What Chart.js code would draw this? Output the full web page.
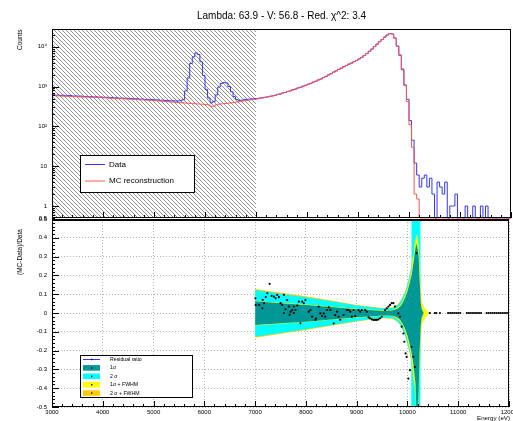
<!DOCTYPE html>
<html>
<head>
<meta charset="utf-8">
<script src="https://cdn.jsdelivr.net/npm/chart.js@4.4.1/dist/chart.umd.min.js"></script>
<style>
    html, body { margin: 0; padding: 0; background: #fff; }
    #wrap { position: relative; width: 513px; height: 421px; overflow: hidden; font-family: "Liberation Sans", Arial, sans-serif; color: #000; }
    canvas { position: absolute; left: 0; }
    #topCanvas { top: 0; }
    #botCanvas { top: 212px; }
    .vtitle { position: absolute; transform: rotate(-90deg); transform-origin: left top; white-space: nowrap; font-size: 6.5px; line-height: 1; }
    .xtitle { position: absolute; white-space: nowrap; font-size: 6.2px; line-height: 1; }
</style>
</head>
<body>
<div id="wrap">
    <canvas id="topCanvas" width="513" height="226"></canvas>
    <canvas id="botCanvas" width="513" height="209"></canvas>
    <div class="vtitle" style="left:16.75px; top:50px;">Counts</div>
    <div class="vtitle" style="left:16.75px; top:275px;">(MC-Data)/Data</div>
    <div class="xtitle" style="left:477px; top:415px;">Energy (eV)</div>
</div>
<script>
const titleText = "Lambda: 63.9 - V: 56.8 - Red. χ^2: 3.4";

const X_MIN = 3000, X_MAX = 12000;
const xTicks = [3000, 4000, 5000, 6000, 7000, 8000, 9000, 10000, 11000, 12000];

// top panel (log counts)
const Y_TOP_MIN = 0.5, Y_TOP_MAX = 28000;
const topTicks = [0.5, 1, 10, 100, 1000, 10000];
const topTickLabels = ["0.5", "1", "10", "10²", "10³", "10⁴"];
const excludedRange = [3000, 7000];

// bottom panel (ratio)
const residTicks = [-0.5, -0.4, -0.3, -0.2, -0.1, 0, 0.1, 0.2, 0.3, 0.4, 0.5];
const residTickLabels = ["-0.5", "-0.4", "-0.3", "-0.2", "-0.1", "0", "0.1", "0.2", "0.3", "0.4", "0.5"];

// histogram bins (low edges, eV)
const binLow = [
    3000, 3050, 3100, 3150, 3200, 3250, 3300, 3350, 3400, 3450,
    3500, 3550, 3600, 3650, 3700, 3750, 3800, 3850, 3900, 3950,
    4000, 4050, 4100, 4150, 4200, 4250, 4300, 4350, 4400, 4450,
    4500, 4550, 4600, 4650, 4700, 4750, 4800, 4850, 4900, 4950,
    5000, 5050, 5100, 5150, 5200, 5250, 5300, 5350, 5400, 5450,
    5500, 5550, 5600, 5650, 5700, 5750, 5800, 5850, 5900, 5950,
    6000, 6050, 6100, 6150, 6200, 6250, 6300, 6350, 6400, 6450,
    6500, 6550, 6600, 6650, 6700, 6750, 6800, 6850, 6900, 6950,
    7000, 7050, 7100, 7150, 7200, 7250, 7300, 7350, 7400, 7450,
    7500, 7550, 7600, 7650, 7700, 7750, 7800, 7850, 7900, 7950,
    8000, 8050, 8100, 8150, 8200, 8250, 8300, 8350, 8400, 8450,
    8500, 8550, 8600, 8650, 8700, 8750, 8800, 8850, 8900, 8950,
    9000, 9050, 9100, 9150, 9200, 9250, 9300, 9350, 9400, 9450,
    9500, 9550, 9600, 9650, 9700, 9750, 9800, 9850, 9900, 9950,
    10000, 10050, 10100, 10150, 10200, 10250, 10300, 10350, 10400, 10450,
    10500, 10550, 10600, 10650, 10700, 10750, 10800, 10850, 10900, 10950,
    11000, 11050, 11100, 11150, 11200, 11250, 11300, 11350, 11400, 11450,
    11500, 11550, 11600, 11650, 11700, 11750, 11800, 11850, 11900, 11950
];

const dataCounts = [
    620, 640, 605, 615, 598, 610, 585, 600, 590, 575,
    585, 570, 580, 560, 568, 555, 562, 548, 555, 540,
    548, 535, 540, 525, 532, 518, 525, 510, 516, 505,
    510, 498, 502, 490, 496, 482, 488, 475, 480, 468,
    472, 460, 465, 452, 458, 445, 450, 438, 442, 432,
    436, 440, 470, 780, 1650, 3800, 5600, 7000, 6400, 4200,
    1900, 850, 520, 390, 420, 620, 980, 1200, 1260, 1230,
    1000, 740, 560, 470, 450, 455, 470, 478, 485, 492,
    500, 498, 515, 522, 540, 552, 572, 585, 600, 640,
    650, 695, 710, 758, 780, 835, 862, 925, 955, 1030,
    1075, 1150, 1200, 1300, 1360, 1475, 1550, 1690, 1800, 1975,
    2110, 2320, 2490, 2720, 2900, 3180, 3380, 3680, 3900, 4250,
    4530, 4980, 5420, 6080, 6760, 7740, 8760, 10150, 11650, 13450,
    15250, 17550, 19750, 21550, 20900, 16600, 10300, 6100, 2650, 1100,
    480, 140, 45, 12, 6, 3, 5, 6, 3, 5,
    2, 0, 4, 3, 2, 4, 0, 1, 1, 2,
    0, 0, 0, 1, 0, 0, 1, 0, 0, 1,
    0, 1, 0, 0, 0, 0, 0, 0, 0, 0
];

const mcCounts = [
    600, 595, 590, 585, 580, 575, 572, 568, 565, 562,
    558, 555, 552, 549, 546, 543, 540, 537, 534, 531,
    528, 524, 520, 516, 512, 508, 504, 500, 496, 492,
    488, 484, 480, 476, 472, 468, 464, 460, 456, 452,
    448, 443, 438, 433, 428, 423, 418, 413, 408, 403,
    398, 394, 390, 386, 382, 378, 374, 370, 366, 362,
    358, 354, 345, 318, 322, 350, 362, 368, 372, 378,
    384, 392, 400, 410, 420, 430, 440, 450, 460, 470,
    480, 492, 505, 518, 532, 546, 560, 580, 605, 630,
    655, 685, 715, 750, 785, 825, 870, 915, 965, 1020,
    1080, 1140, 1210, 1290, 1370, 1460, 1560, 1680, 1810, 1960,
    2120, 2300, 2500, 2700, 2920, 3150, 3400, 3650, 3920, 4220,
    4550, 4950, 5450, 6050, 6800, 7700, 8800, 10100, 11700, 13400,
    15300, 17500, 19800, 21500, 21000, 16500, 10500, 6300, 2800, 1050,
    420, 110, 30, 2, 1.5, 0, 0, 0, 0, 0,
    0, 0, 0, 0, 0, 0, 0, 0, 0, 0,
    0, 0, 0, 0, 0, 0, 0, 0, 0, 0,
    0, 0, 0, 0, 0, 0, 0, 0, 0, 0
];

// residual ratio points
const residE = [
    7005, 7011, 7077, 7142, 7150, 7175, 7210, 7240, 7286, 7325,
    7371, 7404, 7436, 7469, 7501, 7534, 7567, 7567, 7600, 7632,
    7665, 7680, 7698, 7730, 7763, 7763, 7796, 7830, 7861, 7893,
    7926, 7959, 7991, 8057, 8089, 8122, 8187, 8200, 8253, 8285,
    8318, 8351, 8380, 8416, 8450, 8481, 8547, 8579, 8612, 8645,
    8677, 8743, 8808, 8841, 8873, 8906, 8939, 8971, 9037, 9069,
    9102, 9167, 9200, 9233, 9265, 9298, 9331, 9363, 9396, 9429,
    9461, 9494, 9559, 9592, 9625, 9657, 9690, 9723, 9755, 9821,
    9853, 9886, 9919, 9938, 9964, 9984, 10017, 10049, 10082, 10115,
    10147, 10180,
    10440, 10540, 10570, 10640, 10800, 10840, 10880, 10920, 10960, 11000,
    11040, 11170, 11210, 11250, 11290, 11330, 11370, 11410, 11450, 11560,
    11600, 11640, 11680, 11720, 11760, 11800, 11840, 11880, 11920, 11960
];
const residVal = [
    0.078, 0.043, 0.043, 0.025, 0.070, 0.052, 0.085, 0.105, 0.155, 0.091,
    0.087, 0.078, 0.096, 0.084, 0.052, 0.043, 0.096, 0.000, 0.020, 0.069,
    0.034, -0.010, 0.007, 0.016, 0.034, 0.000, 0.016, 0.040, 0.060, -0.055,
    0.060, 0.052, 0.069, 0.007, 0.016, -0.020, -0.037, -0.030, 0.034, -0.002,
    -0.016, -0.002, -0.020, 0.016, 0.030, 0.016, -0.055, -0.011, 0.007, -0.020,
    -0.037, -0.011, 0.016, 0.016, 0.007, -0.020, 0.016, -0.016, 0.016, 0.007,
    0.016, 0.016, 0.007, -0.023, -0.028, -0.034, -0.037, -0.037, -0.037, -0.034,
    -0.028, -0.020, 0.016, 0.025, 0.034, 0.043, 0.052, 0.052, 0.034, -0.002,
    -0.020, -0.073, -0.109, -0.153, -0.215, -0.233, -0.349, -0.304, -0.180, -0.233,
    -0.287, 0.318,
    0, 0, 0, 0, 0, 0, 0, 0, 0, 0,
    0, 0, 0, 0, 0, 0, 0, 0, 0, 0,
    0, 0, 0, 0, 0, 0, 0, 0, 0, 0
];

// uncertainty bands
const bandE = [
    7000, 7500, 8000, 8500, 9000, 9300, 9500, 9700, 9800, 9850,
    9900, 9950, 10000, 10050, 10075, 10080, 10100, 10120, 10140, 10160,
    10180, 10200, 10220, 10240, 10255, 10260, 10280, 10300, 10320, 10340,
    10360, 10380, 10400, 10420
];
const sigma1Hi = [
    0.062, 0.052, 0.043, 0.032, 0.020, 0.015, 0.012, 0.013, 0.022, 0.032,
    0.050, 0.078, 0.115, 0.165, 0.195, 0.200, 0.230, 0.270, 0.310, 0.350,
    0.370, 0.340, 0.300, 0.170, 0.100, 0.060, 0.020, 0.010, 0, 0,
    0, 0, 0, 0
];
const sigma1Lo = [
    -0.064, -0.055, -0.046, -0.034, -0.023, -0.017, -0.013, -0.014, -0.024, -0.035,
    -0.054, -0.082, -0.120, -0.170, -0.205, -0.210, -0.240, -0.280, -0.330, -0.380,
    -0.600, -0.600, -0.420, -0.200, -0.120, -0.070, -0.025, -0.010, 0, 0,
    0, 0, 0, 0
];
const sigma2Hi = [
    0.122, 0.103, 0.084, 0.062, 0.040, 0.030, 0.024, 0.026, 0.040, 0.055,
    0.078, 0.105, 0.150, 0.205, 0.240, 0.600, 0.600, 0.600, 0.600, 0.600,
    0.600, 0.600, 0.600, 0.600, 0.600, 0, 0, 0, 0, 0,
    0, 0, 0, 0
];
const sigma2Lo = [
    -0.126, -0.106, -0.087, -0.064, -0.042, -0.032, -0.025, -0.027, -0.043, -0.058,
    -0.082, -0.115, -0.160, -0.215, -0.250, -0.600, -0.600, -0.600, -0.600, -0.600,
    -0.600, -0.600, -0.600, -0.600, -0.600, 0, 0, 0, 0, 0,
    0, 0, 0, 0
];
const sigma1FwhmHi = [
    0.064, 0.054, 0.045, 0.034, 0.022, 0.017, 0.014, 0.016, 0.028, 0.040,
    0.060, 0.090, 0.130, 0.185, 0.220, 0.225, 0.290, 0.300, 0.370, 0.390,
    0.420, 0.400, 0.360, 0.250, 0.160, 0.120, 0.050, 0.040, 0.030, 0.022,
    0.015, 0.010, 0.005, 0
];
const sigma1FwhmLo = [
    -0.066, -0.057, -0.048, -0.036, -0.025, -0.019, -0.015, -0.017, -0.030, -0.043,
    -0.064, -0.095, -0.140, -0.195, -0.235, -0.240, -0.300, -0.360, -0.380, -0.450,
    -0.600, -0.600, -0.480, -0.280, -0.180, -0.130, -0.060, -0.045, -0.035, -0.025,
    -0.018, -0.012, -0.006, 0
];
const sigma2FwhmHi = [
    0.128, 0.108, 0.089, 0.066, 0.043, 0.033, 0.027, 0.029, 0.045, 0.060,
    0.083, 0.110, 0.155, 0.210, 0.245, 0.250, 0.300, 0.310, 0.380, 0.400,
    0.430, 0.410, 0.370, 0.260, 0.170, 0.125, 0.055, 0.045, 0.034, 0.025,
    0.018, 0.012, 0.006, 0
];
const sigma2FwhmLo = [
    -0.132, -0.111, -0.091, -0.068, -0.045, -0.035, -0.028, -0.030, -0.047, -0.063,
    -0.087, -0.120, -0.165, -0.220, -0.255, -0.260, -0.310, -0.370, -0.390, -0.460,
    -0.600, -0.600, -0.490, -0.290, -0.190, -0.135, -0.065, -0.050, -0.038, -0.028,
    -0.020, -0.014, -0.007, 0
];

const COLORS = {
    data: "#3535ff",
    mc: "#ff5555",
    s1: "#009797",
    s2: "#00ffff",
    s1f: "#ffff00",
    s2f: "#ffcc00"
};
const FONT = "'Liberation Sans', Arial, sans-serif";

// legend entries
const topLegendItems = [["Data", COLORS.data], ["MC reconstruction", COLORS.mc]];
const botLegendItems = [
    ["Residual ratio", null],
    ["1σ", COLORS.s1],
    ["2 σ", COLORS.s2],
    ["1σ + FWHM", COLORS.s1f],
    ["2 σ + FWHM", COLORS.s2f]
];

// zero bins are drawn on the frame bottom, like ROOT does
function histPoints(vals) {
    const pts = binLow.map((e, i) => ({ x: e, y: vals[i] > 0 ? vals[i] : Y_TOP_MIN }));
    pts.push({ x: X_MAX, y: pts[pts.length - 1].y });
    return pts;
}

function bandPoints(vals) {
    return bandE.map((e, i) => ({ x: e, y: vals[i] }));
}

function makeHatch() {
    const c = document.createElement("canvas");
    c.width = 4; c.height = 4;
    const g = c.getContext("2d");
    g.strokeStyle = "rgba(70,70,70,0.75)";
    g.lineWidth = 0.8;
    g.beginPath();
    g.moveTo(0, 0); g.lineTo(4, 4);
    g.moveTo(-1, 3); g.lineTo(1, 5);
    g.moveTo(3, -1); g.lineTo(5, 1);
    g.stroke();
    return g.createPattern(c, "repeat");
}

function legendBox(ctx, x, y, w, h) {
    ctx.fillStyle = "#fff";
    ctx.fillRect(x, y, w, h);
    ctx.strokeStyle = "#000";
    ctx.lineWidth = 1;
    ctx.strokeRect(x + 0.5, y + 0.5, w - 1, h - 1);
}

// ROOT style: frame plus ticks pointing inwards
const topFrame = {
    id: "topFrame",
    afterDatasetsDraw(chart) {
        const { ctx, chartArea: a, scales: { x, y } } = chart;
        ctx.save();
        ctx.strokeStyle = "#000";
        ctx.lineWidth = 1;
        ctx.beginPath();
        for (let e = X_MIN; e <= X_MAX; e += 200) {
            const px = Math.round(x.getPixelForValue(e)) + 0.5;
            const len = e % 1000 === 0 ? 6 : 3;
            ctx.moveTo(px, a.bottom);
            ctx.lineTo(px, a.bottom - len);
        }
        [0.1, 1, 10, 100, 1000, 10000].forEach(d => {
            for (let k = 1; k < 10; k++) {
                const v = k * d;
                if (v < Y_TOP_MIN || v > Y_TOP_MAX) continue;
                const py = Math.round(y.getPixelForValue(v)) + 0.5;
                const len = k === 1 ? 7 : 3;
                ctx.moveTo(a.left, py);
                ctx.lineTo(a.left + len, py);
            }
        });
        ctx.stroke();
        ctx.strokeRect(a.left + 0.5, a.top + 0.5, a.width - 1, a.height - 1);

        // legend
        legendBox(ctx, 80, 155, 115, 38);
        ctx.font = "8px " + FONT;
        ctx.textBaseline = "middle";
        ctx.textAlign = "left";
        topLegendItems.forEach(([label, color], i) => {
            const cy = 164 + i * 16.5;
            ctx.strokeStyle = color;
            ctx.beginPath();
            ctx.moveTo(85, cy + 0.5);
            ctx.lineTo(105, cy + 0.5);
            ctx.stroke();
            ctx.fillStyle = "#000";
            ctx.fillText(label, 109, cy + 0.5);
        });
        ctx.restore();
    }
};

const botFrame = {
    id: "botFrame",
    afterDatasetsDraw(chart) {
        const { ctx, chartArea: a, scales: { x, y } } = chart;
        ctx.save();
        ctx.strokeStyle = "#000";
        ctx.lineWidth = 1;
        ctx.beginPath();
        for (let e = X_MIN; e <= X_MAX; e += 200) {
            const px = Math.round(x.getPixelForValue(e)) + 0.5;
            const len = e % 1000 === 0 ? 6 : 3;
            ctx.moveTo(px, a.bottom);
            ctx.lineTo(px, a.bottom - len);
        }
        for (let i = -25; i <= 25; i++) {
            const py = Math.round(y.getPixelForValue(i / 50)) + 0.5;
            const len = i % 5 === 0 ? 7 : 3;
            ctx.moveTo(a.left, py);
            ctx.lineTo(a.left + len, py);
        }
        ctx.stroke();
        ctx.strokeRect(a.left + 0.5, a.top + 0.5, a.width - 1, a.height - 1);
        // thick boundary between the two pads
        ctx.lineWidth = 2;
        ctx.beginPath();
        ctx.moveTo(a.left, a.top + 1);
        ctx.lineTo(a.right, a.top + 1);
        ctx.stroke();

        // legend (canvas y = page y - 212)
        legendBox(ctx, 80, 143, 113, 43);
        ctx.font = "5.2px " + FONT;
        ctx.textBaseline = "middle";
        ctx.textAlign = "left";
        botLegendItems.forEach(([label, color], i) => {
            const cy = 147.5 + i * 8.4;
            if (color) {
                ctx.fillStyle = color;
                ctx.fillRect(83, cy - 2.8, 17, 5.6);
            } else {
                ctx.strokeStyle = COLORS.data;
                ctx.lineWidth = 1;
                ctx.beginPath();
                ctx.moveTo(83, cy);
                ctx.lineTo(100, cy);
                ctx.stroke();
            }
            ctx.fillStyle = "#000";
            ctx.fillRect(91, cy - 0.7, 1.4, 1.4);
            ctx.fillText(label, 110, cy);
        });
        ctx.restore();
    }
};

function noPad(s) {
    s.paddingLeft = 0; s.paddingRight = 0; s.paddingTop = 0; s.paddingBottom = 0;
}

const topChart = new Chart(document.getElementById("topCanvas").getContext("2d"), {
    type: "line",
    data: {
        datasets: [
            {
                label: "MC reconstruction",
                data: histPoints(mcCounts),
                stepped: "after",
                borderColor: COLORS.mc,
                borderWidth: 1,
                pointRadius: 0,
                fill: false,
                clip: 2
            },
            {
                label: "Data",
                data: histPoints(dataCounts),
                stepped: "after",
                borderColor: COLORS.data,
                borderWidth: 1,
                pointRadius: 0,
                fill: false,
                clip: 2
            },
            {
                label: "excluded",
                data: [{ x: excludedRange[0], y: Y_TOP_MAX }, { x: excludedRange[1], y: Y_TOP_MAX }],
                borderColor: "transparent",
                borderWidth: 0,
                backgroundColor: makeHatch(),
                pointRadius: 0,
                fill: "start"
            }
        ]
    },
    options: {
        responsive: false,
        animation: false,
        devicePixelRatio: 1,
        layout: { padding: { left: 0, right: 2, top: 0, bottom: 0 } },
        plugins: {
            legend: { display: false },
            tooltip: { enabled: false },
            title: {
                display: true,
                text: titleText,
                fullSize: false,
                color: "#000",
                font: { family: FONT, size: 10, weight: "normal" },
                padding: { top: 10, bottom: 7 }
            }
        },
        scales: {
            x: {
                type: "linear",
                min: X_MIN,
                max: X_MAX,
                ticks: { display: false },
                grid: { display: false, drawTicks: false },
                border: { display: false },
                afterFit: s => { s.height = 8; noPad(s); }
            },
            y: {
                type: "logarithmic",
                min: Y_TOP_MIN,
                max: Y_TOP_MAX,
                afterBuildTicks: s => { s.ticks = topTicks.map(v => ({ value: v })); },
                ticks: {
                    autoSkip: false,
                    color: "#000",
                    padding: 5,
                    font: { family: FONT, size: 6 },
                    callback: v => topTickLabels[topTicks.indexOf(v)]
                },
                grid: { display: false, drawTicks: false },
                border: { display: false },
                afterFit: s => { s.width = 52; noPad(s); }
            }
        }
    },
    plugins: [topFrame]
});

const botChart = new Chart(document.getElementById("botCanvas").getContext("2d"), {
    type: "line",
    data: {
        datasets: [
            {
                label: "Residual ratio",
                data: residE.map((e, i) => ({ x: e, y: residVal[i] })),
                showLine: false,
                pointRadius: 1.1,
                pointBackgroundColor: "#000",
                pointBorderWidth: 0,
                borderColor: COLORS.data
            },
            { label: "1σ", data: bandPoints(sigma1Hi), fill: "+1", backgroundColor: COLORS.s1, borderWidth: 0, borderColor: "transparent", pointRadius: 0 },
            { label: "1σ low", data: bandPoints(sigma1Lo), fill: false, borderWidth: 0, borderColor: "transparent", pointRadius: 0 },
            { label: "1σ + FWHM", data: bandPoints(sigma1FwhmHi), fill: "+1", backgroundColor: COLORS.s1f, borderWidth: 0, borderColor: "transparent", pointRadius: 0 },
            { label: "1σ + FWHM low", data: bandPoints(sigma1FwhmLo), fill: false, borderWidth: 0, borderColor: "transparent", pointRadius: 0 },
            { label: "2 σ", data: bandPoints(sigma2Hi), fill: "+1", backgroundColor: COLORS.s2, borderWidth: 0, borderColor: "transparent", pointRadius: 0 },
            { label: "2 σ low", data: bandPoints(sigma2Lo), fill: false, borderWidth: 0, borderColor: "transparent", pointRadius: 0 },
            { label: "2 σ + FWHM", data: bandPoints(sigma2FwhmHi), fill: "+1", backgroundColor: COLORS.s2f, borderWidth: 0, borderColor: "transparent", pointRadius: 0 },
            { label: "2 σ + FWHM low", data: bandPoints(sigma2FwhmLo), fill: false, borderWidth: 0, borderColor: "transparent", pointRadius: 0 }
        ]
    },
    options: {
        responsive: false,
        animation: false,
        devicePixelRatio: 1,
        layout: { padding: { left: 0, right: 2, top: 7, bottom: 0 } },
        plugins: {
            legend: { display: false },
            tooltip: { enabled: false }
        },
        scales: {
            x: {
                type: "linear",
                min: X_MIN,
                max: X_MAX,
                afterBuildTicks: s => { s.ticks = xTicks.map(v => ({ value: v })); },
                ticks: {
                    autoSkip: false,
                    maxRotation: 0,
                    color: "#000",
                    padding: 2,
                    font: { family: FONT, size: 6 },
                    callback: v => String(v)
                },
                grid: { display: true, drawTicks: false, color: "#b4b4b4", lineWidth: 1 },
                border: { display: false, dash: [1, 2] },
                afterFit: s => { s.height = 14; noPad(s); }
            },
            y: {
                type: "linear",
                min: -0.5,
                max: 0.5,
                afterBuildTicks: s => { s.ticks = residTicks.map(v => ({ value: v })); },
                ticks: {
                    autoSkip: false,
                    color: "#000",
                    padding: 5,
                    font: { family: FONT, size: 6 },
                    callback: v => residTickLabels[residTicks.indexOf(v)]
                },
                grid: { display: true, drawTicks: false, color: "#b4b4b4", lineWidth: 1 },
                border: { display: false, dash: [1, 2] },
                afterFit: s => { s.width = 52; noPad(s); }
            }
        }
    },
    plugins: [botFrame]
});
</script>
</body>
</html>
